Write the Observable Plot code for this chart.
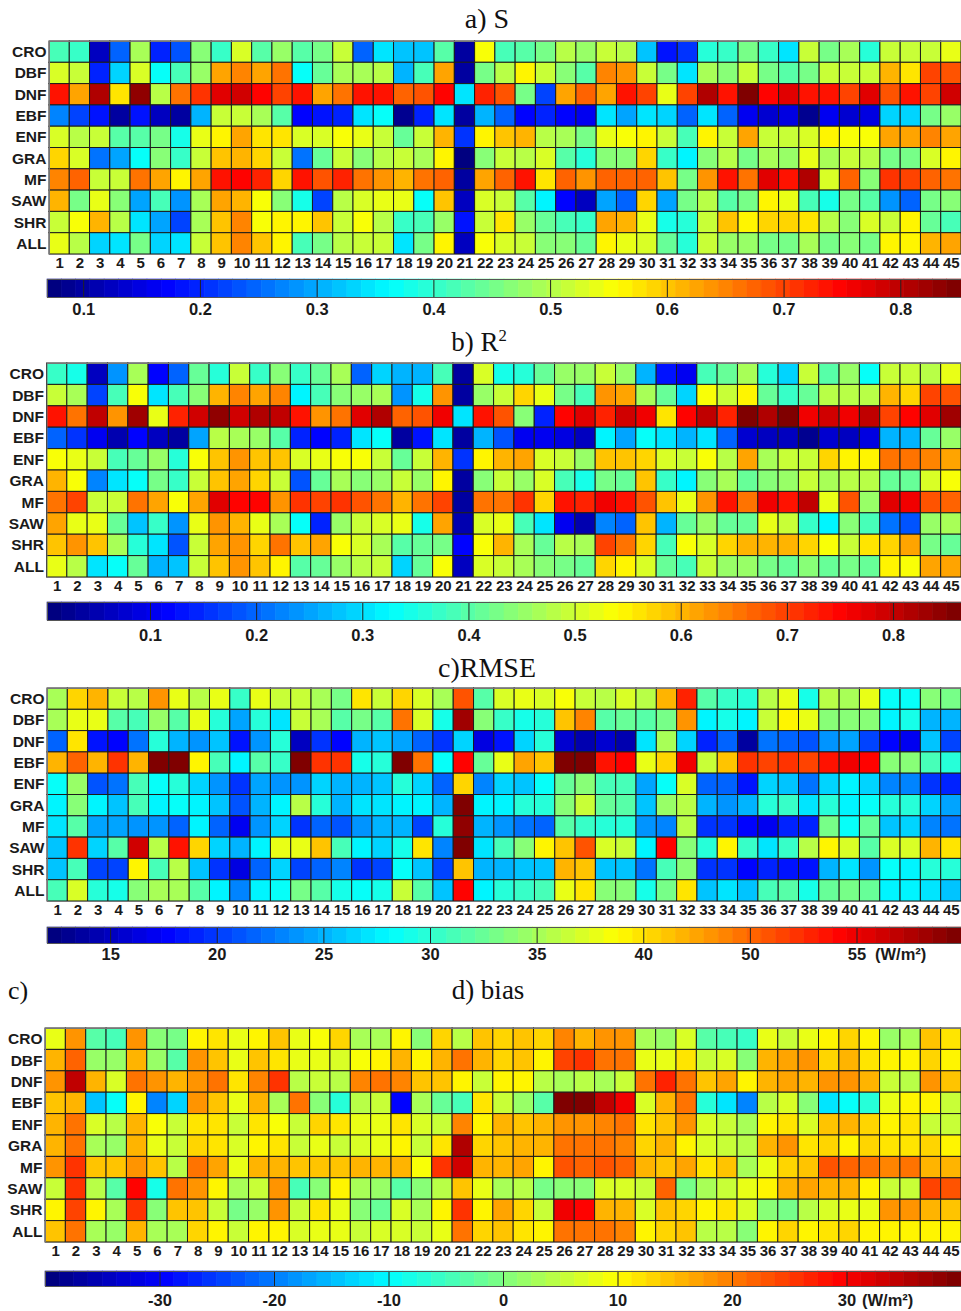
<!DOCTYPE html>
<html><head><meta charset="utf-8">
<script src="https://cdn.jsdelivr.net/npm/d3@7"></script>
<script src="https://cdn.jsdelivr.net/npm/@observablehq/plot@0.6"></script>
<style>
html,body{margin:0;padding:0;background:#fff}
#page{position:relative;width:961px;height:1311px;overflow:hidden}
#page>svg,#page>figure{position:absolute;margin:0}
.title{position:absolute;font-family:"Liberation Serif",serif;color:#111;white-space:nowrap;line-height:1}
.title sup{font-size:62%;line-height:0}
</style></head><body><div id="page"></div>
<script>
const categories = ["CRO","DBF","DNF","EBF","ENF","GRA","MF","SAW","SHR","ALL"];
const columns = d3.range(1,46);

const sGrid = [
[.42,.40,.13,.25,.49,.20,.24,.47,.40,.53,.43,.48,.43,.46,.51,.25,.35,.32,.32,.43,.10,.55,.42,.43,.46,.50,.48,.52,.50,.32,.19,.21,.39,.40,.45,.41,.35,.52,.45,.49,.39,.52,.52,.52,.54],
[.53,.51,.20,.33,.53,.37,.42,.48,.62,.65,.63,.66,.37,.44,.49,.49,.50,.31,.42,.62,.10,.46,.50,.56,.52,.47,.43,.65,.64,.51,.45,.35,.49,.47,.52,.46,.43,.46,.52,.51,.51,.61,.58,.70,.69],
[.74,.63,.81,.58,.83,.50,.66,.71,.77,.79,.75,.70,.74,.63,.66,.73,.74,.67,.69,.75,.35,.72,.69,.46,.22,.63,.68,.62,.74,.70,.54,.70,.81,.73,.85,.75,.77,.74,.73,.70,.77,.69,.74,.70,.78],
[.27,.22,.19,.10,.19,.13,.10,.31,.51,.51,.49,.43,.17,.18,.20,.34,.37,.09,.20,.34,.10,.31,.25,.17,.20,.17,.16,.34,.29,.35,.33,.25,.35,.25,.16,.14,.15,.09,.16,.14,.15,.33,.33,.46,.48],
[.53,.50,.52,.43,.43,.46,.38,.54,.57,.63,.58,.58,.53,.53,.55,.54,.52,.44,.51,.61,.21,.56,.60,.61,.50,.49,.46,.54,.55,.56,.51,.42,.56,.51,.63,.51,.51,.53,.56,.55,.55,.63,.62,.65,.63],
[.59,.53,.26,.29,.37,.47,.41,.52,.60,.61,.59,.52,.26,.44,.51,.47,.50,.52,.49,.57,.08,.47,.52,.50,.53,.43,.39,.47,.47,.59,.40,.36,.47,.50,.45,.49,.48,.54,.49,.51,.50,.45,.45,.53,.57],
[.65,.67,.51,.52,.66,.63,.56,.62,.74,.75,.72,.59,.73,.69,.72,.66,.64,.61,.66,.68,.10,.63,.67,.73,.58,.67,.64,.68,.67,.68,.60,.46,.64,.74,.66,.77,.74,.81,.53,.67,.47,.71,.70,.68,.66],
[.61,.45,.54,.47,.30,.42,.28,.49,.63,.61,.55,.47,.38,.22,.50,.53,.54,.54,.37,.60,.13,.53,.52,.43,.36,.17,.12,.30,.25,.59,.29,.46,.50,.43,.46,.56,.54,.42,.38,.46,.43,.28,.25,.45,.47],
[.52,.55,.61,.50,.34,.30,.22,.49,.60,.65,.55,.57,.56,.60,.51,.55,.50,.40,.42,.48,.19,.52,.58,.48,.44,.42,.41,.63,.61,.54,.38,.39,.52,.60,.56,.59,.59,.58,.50,.47,.53,.52,.56,.44,.42],
[.54,.50,.33,.35,.45,.33,.34,.52,.60,.65,.60,.57,.42,.46,.50,.51,.52,.34,.45,.57,.13,.55,.53,.51,.47,.47,.44,.56,.54,.53,.44,.39,.51,.48,.48,.46,.46,.49,.46,.47,.46,.56,.56,.61,.63]
];
const r2Grid = [
[.37,.35,.07,.24,.47,.12,.20,.42,.36,.50,.37,.44,.37,.42,.47,.20,.29,.26,.26,.39,.03,.51,.34,.36,.41,.46,.45,.49,.45,.27,.13,.11,.38,.41,.47,.36,.29,.49,.40,.45,.33,.50,.49,.48,.52],
[.50,.47,.17,.38,.54,.31,.39,.44,.60,.64,.62,.64,.32,.39,.44,.46,.47,.24,.35,.63,.04,.45,.50,.58,.52,.43,.38,.63,.62,.47,.42,.29,.53,.49,.55,.41,.37,.41,.48,.48,.48,.60,.57,.70,.68],
[.74,.65,.80,.63,.83,.52,.72,.79,.84,.79,.82,.80,.74,.63,.65,.78,.82,.67,.68,.76,.30,.73,.68,.44,.15,.75,.78,.72,.79,.76,.56,.75,.80,.72,.86,.82,.86,.76,.79,.76,.81,.69,.75,.78,.83],
[.20,.16,.11,.05,.12,.06,.03,.25,.48,.47,.46,.40,.14,.12,.15,.31,.33,.03,.13,.30,.03,.26,.18,.10,.11,.09,.07,.32,.25,.33,.31,.26,.31,.20,.08,.06,.07,.02,.08,.07,.09,.27,.26,.42,.45],
[.53,.52,.50,.39,.41,.45,.36,.53,.59,.63,.59,.59,.51,.52,.53,.53,.50,.42,.49,.60,.16,.55,.60,.61,.51,.50,.46,.59,.59,.57,.51,.50,.53,.48,.61,.47,.50,.50,.57,.55,.55,.65,.65,.64,.62],
[.60,.53,.23,.30,.33,.43,.37,.49,.59,.61,.58,.50,.19,.41,.47,.44,.46,.49,.45,.55,.03,.44,.49,.46,.51,.39,.35,.43,.42,.59,.37,.32,.44,.47,.42,.44,.45,.50,.47,.48,.48,.41,.42,.51,.54],
[.66,.69,.50,.49,.65,.62,.53,.62,.78,.75,.75,.63,.71,.70,.71,.68,.66,.60,.66,.69,.03,.65,.65,.71,.57,.74,.72,.76,.73,.68,.59,.52,.63,.74,.65,.76,.73,.81,.52,.68,.45,.78,.76,.68,.67],
[.61,.52,.52,.41,.28,.37,.24,.52,.63,.60,.52,.47,.33,.14,.46,.50,.51,.52,.35,.61,.05,.51,.52,.38,.30,.10,.05,.23,.20,.59,.26,.42,.46,.42,.42,.52,.50,.37,.32,.44,.39,.21,.19,.45,.47],
[.59,.63,.59,.47,.36,.30,.18,.49,.62,.63,.58,.65,.59,.62,.53,.51,.47,.40,.41,.43,.12,.54,.60,.47,.42,.48,.47,.69,.66,.57,.38,.53,.51,.58,.60,.60,.60,.58,.53,.50,.56,.58,.62,.43,.41],
[.52,.48,.30,.33,.41,.26,.28,.50,.59,.63,.59,.55,.40,.42,.46,.48,.49,.29,.42,.54,.06,.51,.50,.47,.44,.43,.42,.57,.55,.51,.41,.38,.49,.45,.45,.43,.42,.44,.42,.43,.42,.55,.54,.61,.62]
];
// RMSE is kept on the colour bar's even spacing; the bar labels its last two ticks 50 and 55.
const rmseGrid = [
[35,40.5,42,36.5,35.5,43,38,35.5,38,30.5,37.5,36.5,36.5,35,33,39.5,36.5,40.5,37.3,35,46,32,37,38,37,38.5,36.5,36,37,36,42,48,31.5,30.5,29.5,36,37.5,29,36,35,38,28.5,28.5,34,33],
[35,38,38,31.5,31,34.5,32,38,29.5,24.5,29.5,27,36.5,35,32,33,32,44.5,37,28.8,53,34,30.5,29,29.7,41,44,32,32.5,31.5,33,43,28,28.8,27.5,36.5,39.3,37.8,33.5,34,33.5,28,29,25,25],
[22,40,18.5,17.5,22.5,30,25,24,26,18.5,23.5,29.5,15,20,17.5,25,25.5,24.5,22,20,26.5,16.5,18.5,26.5,29.5,15.5,14.5,16,14.5,27,35,26.5,19,22,13.5,22.5,22,21,23.5,24.5,20.5,18,17,25.5,20.5],
[42,45,42,47,42,55,55,39,31,27.5,32,30.5,55,47,47,29,29.5,55,44.5,28.5,49,32.5,38,42.5,41.5,54.5,55,48.5,49.5,37.8,40.5,49.8,36.5,41,47,46.5,47,46.5,48.5,50,49.5,34,33.5,31,30],
[28.5,34.5,21,22.5,31,28.5,30,26.5,24,19.5,24.5,24,24,26.5,25,25,25.5,29.5,26.5,21.5,40.5,23,26.5,25.5,28.5,32.5,33.5,31,31,24.5,28.2,37,21.5,22,18.5,26.5,26,22.5,26.5,27.5,26.5,23,23,20,19],
[27.5,33.5,27.7,25.5,31,28,28.5,27.5,25.5,21,25,28,35.5,29.5,25,27,27,28,27.5,25,55,27.5,27.7,30,30,34,36.5,32.5,31.5,25.5,34.5,36,25,23.5,25,29.5,30.5,27,30,28,28.5,29.5,30,26.5,24.5],
[27,32,24.5,24.5,24,23.5,21.5,27.5,22,17,24,26.5,20,21.5,21,23.5,25,25,20.5,30,54,25,23.5,22.5,22,31.5,30.5,29.5,30,23.5,23,36,19.5,19.5,17.8,17,19,19,33,28.5,32.5,26,26.5,23,22.5],
[25.5,47.5,26.5,32,51.5,35.5,48.5,40.5,26.5,25,27.8,37.8,37.5,41,31,28,26.5,29,39.5,23,55,27,31,34,39,41.5,46,37,36.5,28,49,33.5,29.5,39,30.5,27,30.5,35.5,39,37,32,37,37,42,40],
[25.5,31,20.5,20.5,39,31,35.5,26,19.5,16.5,21.5,26.5,20.5,21.5,23,19.5,20.5,28.5,26,20.5,41.5,25,25,25.5,26,42,41,25.5,26,22.5,31,33.5,19.5,19.5,17.5,19,18.5,18.5,25,27,23.5,28.5,28,30,29.5],
[31,37,29.5,29,33.5,35,35,31.5,27.5,23,27.7,28.3,33,31.5,29,28.5,29,36.5,32,26,49,28,30,30.5,31,38,39.7,34,34,29,33,40,26,27,26,31,32,29,32.5,33,32.5,28,27.8,27,26]
];
const biasGrid = [
[8,18,-3,-5,18,1,-1,10,12,8.5,11,14,7.5,9.5,13,3,3,10,1,13,4,14,12.5,14,13,19,15,18,18,3,2,7,-3,-5,-6,8,6,8,10.5,13,10,2,2.5,14,12],
[16,22,2,2,15,2,-3,18,14.5,8,14,11.5,8.5,8,7,9,10,16,10,15,21,16,13,14.5,10.5,24,25,20,20.5,8.5,8,11.5,5,7,.5,16,17,18,13,15,11.5,10.5,10,12.5,11],
[18,34,15,7,20,18,15,18,21,12,19,25,4,6,4.5,19.5,20,19,14,14,11,6,10,11,4,2.5,4,3.5,5,21,27,20,14.5,16.5,10,16,17,15,18,17.5,15,5,4,18,14],
[14,15.5,-15,-10,11,-20,-13,18,14,8,15,3,21,0,-7,4,6,-30,3.5,-2,-4,12,5,1.5,-3,39.5,40,34,31,7,15,20,-7,-12,-19,4.5,7,0,-12,-9,-6.5,8,10,10,6],
[15,21,7,4.5,15,9.5,5,11.5,12,5,12,9,5,12.5,12,8,8,12,7,5,19,10,15,14,15,18,18,19,20,12,14,18,7,6,2.5,10,12,7,14,15,13,10.5,12,5,5],
[15,21,2.5,2,15,8,5,13,11.5,7,10,12,6,8.5,5,6.5,8.5,10,6,12,36,13,14,15.5,15.5,20,20,20,19,13,15,10.5,7,5.5,4,16,17.5,12,13,11,13,11.5,12,13,10],
[18,26,14.5,14.5,18,14.5,4,20,16.5,8.5,16,15,14,14,14.5,15,16,15,9.5,25,33,15,16,16.5,10,23,22,23.5,22,16,14,17,12,14,3.5,8,13,14,23.5,22,20.5,19,20.5,15,15],
[6,26,4,-3,29,-8,20,18,10,3,5,18,-5,0,10,3,2,-3,0,4,14,8,3,4,-1,1,0,7,6.5,6,22,-1,3,6,8,10,15,17,15,16,11,6,6,24,23],
[11,24,11,3,25,1,14.5,14,5,-1,2,18,5,12,8,0,-2,7,2.5,10,25,11,17,13,6,30,29,15,16,7,14,13,10,11.5,6.5,0,-.5,4,7,8,8,18,18,15.5,14],
[14,21,2.5,1.5,16,3.5,3,13.5,11,6,11,10,7,8.5,8.5,6,7,7,5,8,20,12.5,14,12,11,21,20,20,19,10,12.5,14,4.5,4,1,10,13,10,11.5,12.5,11,10,11,10,10]
];

const sTicks = [.1,.2,.3,.4,.5,.6,.7,.8];
const r2Ticks = [.1,.2,.3,.4,.5,.6,.7,.8];
const rmseTicks = [15,20,25,30,35,40,45,50];
const rmseTickLabels = ["15","20","25","30","35","40","50","55"];
const biasTicks = [-30,-20,-10,0,10,20,30];
const unitLabel = "(W/m²)";

const sansFont = '"Liberation Sans",Arial,sans-serif';
const clamp01 = v => Math.max(0, Math.min(1, v));
function jet(t){
  const s = Math.min(63, Math.floor(t*64))/63;
  const r = clamp01(Math.min(4*s-1.5, -4*s+4.5));
  const g = clamp01(Math.min(4*s-.5, -4*s+3.5));
  const b = clamp01(Math.min(4*s+.5, -4*s+2.5));
  return `rgb(${Math.round(r*255)},${Math.round(g*255)},${Math.round(b*255)})`;
}
const page = document.getElementById("page");
function place(node, top){ node.style.position="absolute"; node.style.left="0"; node.style.top=top+"px"; page.appendChild(node); }
function title(html, centre, top, size){
  const d=document.createElement("div"); d.className="title"; d.innerHTML=html;
  d.style.left=centre+"px"; d.style.top=top+"px"; d.style.fontSize=size+"px"; d.style.transform="translateX(-50%)";
  page.appendChild(d);
}
function panel(o){
  const colour = {type:"linear", domain:o.domain, interpolate:jet, clamp:true};
  const rows = o.grid.flatMap((r,i)=>r.map((v,j)=>({cat:categories[i],col:columns[j],v})));
  const map = Plot.plot({
    width:961, height:o.mapH+24, marginTop:1, marginBottom:23, marginLeft:o.left, marginRight:0,
    style:{fontFamily:sansFont,background:"transparent",overflow:"visible"},
    x:{type:"band",domain:columns,padding:0,round:false,axis:null},
    y:{type:"band",domain:categories,padding:0,round:false,axis:null},
    color:colour,
    marks:[
      Plot.cell(rows,{x:"col",y:"cat",fill:"v",stroke:"#1c1c1c",strokeWidth:1}),
      Plot.axisX({anchor:"bottom",tickSize:0,tickPadding:3,fontSize:15,fontWeight:"bold",fill:"#1a1a1a",label:null}),
      Plot.axisY({anchor:"left",tickSize:0,tickPadding:3,fontSize:15.5,fontWeight:"bold",fill:"#1a1a1a",label:null}),
      Plot.frame({stroke:"#777",strokeWidth:1})
    ]
  });
  place(map,o.mapTop-1);
  const [lo,hi]=o.domain;
  const levels=d3.range(64).map(i=>({a:lo+(hi-lo)*i/64,b:lo+(hi-lo)*(i+1)/64,m:lo+(hi-lo)*(i+.5)/64}));
  const labelOf=v=>o.labels?o.labels[o.ticks.indexOf(v)]:String(v);
  const last=o.ticks[o.ticks.length-1];
  const bar = Plot.plot({
    width:961, height:o.barH+30, marginTop:1, marginBottom:29, marginLeft:o.barLeft, marginRight:0,
    style:{fontFamily:sansFont,background:"transparent",overflow:"visible"},
    x:{type:"linear",domain:o.domain,axis:null},
    y:{axis:null},
    color:colour,
    marks:[
      Plot.rect(levels,{x1:"a",x2:"b",fill:"m",stroke:"m",strokeWidth:.6}),
      Plot.ruleX(o.ticks,{stroke:"#222",strokeWidth:1}),
      Plot.axisX(o.ticks,{anchor:"bottom",tickSize:0,tickPadding:o.pad,fontSize:16.5,fontWeight:"bold",fill:"#1a1a1a",label:null,tickFormat:labelOf}),
      o.unit?Plot.text([o.unit],{x:[last],frameAnchor:"bottom",dx:o.unitDx,dy:o.unitDy,fontSize:16.5,fontWeight:"bold",fill:"#1a1a1a",textAnchor:"start"}):null,
      Plot.frame({stroke:"#555",strokeWidth:1})
    ]
  });
  place(bar,o.barTop-1);
}
panel({grid:sGrid,domain:[.069,.852],ticks:sTicks,left:49,mapTop:41,mapH:213,barLeft:47,barTop:279,barH:18,pad:6});
panel({grid:r2Grid,domain:[.003,.864],ticks:r2Ticks,left:46.5,mapTop:363,mapH:214,barLeft:47,barTop:602,barH:18,pad:9});
panel({grid:rmseGrid,domain:[12.04,54.9],ticks:rmseTicks,labels:rmseTickLabels,left:47,mapTop:688,mapH:213,barLeft:47,barTop:927,barH:16,pad:5,unit:unitLabel,unitDx:18,unitDy:16});
panel({grid:biasGrid,domain:[-40,40],ticks:biasTicks,left:45,mapTop:1028,mapH:214,barLeft:45,barTop:1271,barH:15,pad:8,unit:unitLabel,unitDx:15,unitDy:19});
title("a) S",487,5,28);
title("b) R<sup>2</sup>",479,329,27);
title("c)RMSE",487,654,28);
title("c)",18,978,26);
title("d) bias",488,977,27);
</script></body></html>
